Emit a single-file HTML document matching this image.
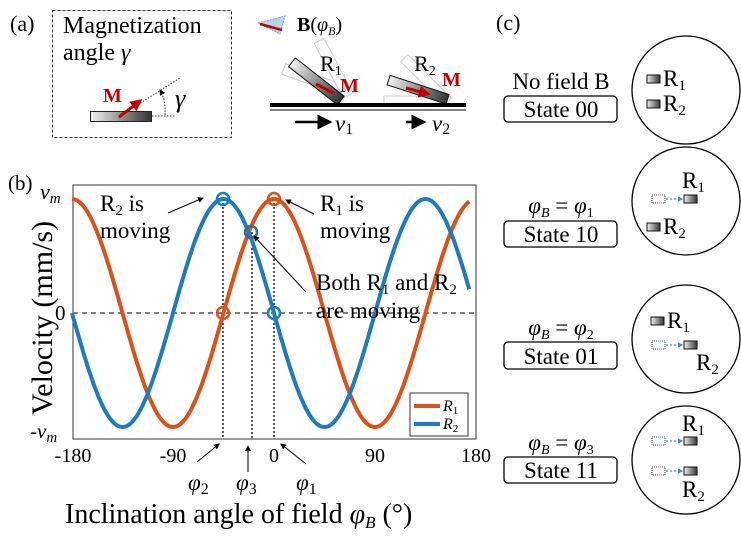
<!DOCTYPE html>
<html><head><meta charset="utf-8"><style>
body{margin:0;background:#fff}
svg, svg text{font-family:"Liberation Serif","Noto Serif CJK SC","DejaVu Serif",serif}
</style></head><body>
<svg width="741" height="531" viewBox="0 0 741 531" xmlns="http://www.w3.org/2000/svg">
<defs>
<linearGradient id="g" x1="0" x2="1"><stop offset="0" stop-color="#f2f2f2"/><stop offset="1" stop-color="#333"/></linearGradient>
<marker id="ar" markerWidth="6" markerHeight="6" refX="5" refY="3" orient="auto"><path d="M0,0L6,3L0,6z" fill="#000"/></marker>
<marker id="arr" markerWidth="4" markerHeight="4" refX="3" refY="2" orient="auto"><path d="M0,0L4,2L0,4z" fill="#c00000"/></marker>
<marker id="arb" markerWidth="4" markerHeight="4" refX="3" refY="2" orient="auto"><path d="M0,0L4,2L0,4z" fill="#4a86c0"/></marker>
</defs>
<text x="10" y="31" font-size="22">(a)</text>
<rect x="52.5" y="10.5" width="179" height="127" fill="none" stroke="#333" stroke-dasharray="3,2"/>
<text x="63" y="33" font-size="24">Magnetization</text>
<text x="63" y="60" font-size="24">angle <tspan font-style="italic">γ</tspan></text>
<rect x="90.5" y="111.5" width="61" height="10" fill="url(#g)" stroke="#222"/>
<line x1="152" y1="116" x2="175" y2="116" stroke="#333" stroke-dasharray="1.5,1.5"/>
<line x1="120" y1="116" x2="180" y2="78" stroke="#333" stroke-dasharray="1.5,1.5"/>
<path d="M165,115 Q166,100 160,90" fill="none" stroke="#333" stroke-dasharray="1.5,1.5" marker-end="url(#ar)"/>
<line x1="119" y1="117" x2="140" y2="101" stroke="#c00000" stroke-width="3" marker-end="url(#arr)"/>
<text x="103" y="102" font-size="20" font-weight="bold" fill="#c00000">M</text>
<text x="175" y="107" font-size="26" font-style="italic">γ</text>
<path d="M258,23 L285,16 L280,34 Z" fill="#b9d4e8" stroke="#7aa6cc" stroke-dasharray="2,1"/>
<line x1="260" y1="24" x2="282" y2="30" stroke="#c00000" stroke-width="2.5"/>
<text x="297" y="31" font-size="20"><tspan font-weight="bold">B</tspan>(<tspan font-style="italic">φ</tspan><tspan font-size="12" dy="4" font-style="italic">B</tspan><tspan dy="-4">)</tspan></text>
<g fill="#fbfbfb" stroke="#ccc" stroke-width="1">
<rect x="276" y="84" width="62" height="11" transform="rotate(20 338 101)"/>
<rect x="276" y="84" width="62" height="11" transform="rotate(62 338 101)"/>
<rect x="384" y="96" width="62" height="9"/>
<rect x="384" y="96" width="62" height="10" transform="rotate(45 446 104)"/>
</g>
<rect x="276" y="94" width="62" height="11" transform="rotate(38 338 104)" fill="url(#g)" stroke="#111"/>
<rect x="384" y="94" width="62" height="10" transform="rotate(18 446 104)" fill="url(#g)" stroke="#111"/>
<line x1="316" y1="84" x2="333" y2="93" stroke="#c00000" stroke-width="3"/>
<line x1="406" y1="88" x2="428" y2="94" stroke="#c00000" stroke-width="3" marker-end="url(#arr)"/>
<text x="320" y="71" font-size="22">R<tspan font-size="14" dy="4">1</tspan></text>
<text x="414" y="71" font-size="22">R<tspan font-size="14" dy="4">2</tspan></text>
<text x="340" y="92" font-size="20" font-weight="bold" fill="#c00000">M</text>
<text x="442" y="86" font-size="20" font-weight="bold" fill="#c00000">M</text>
<rect x="270" y="103" width="196" height="4" fill="#000"/>
<line x1="270" y1="110" x2="466" y2="110" stroke="#000"/>
<line x1="295" y1="122" x2="330" y2="122" stroke="#000" stroke-width="2.5" marker-end="url(#ar)"/>
<line x1="406" y1="122" x2="424" y2="122" stroke="#000" stroke-width="2.5" marker-end="url(#ar)"/>
<text x="335" y="131" font-size="23" font-style="italic">v<tspan font-size="16" font-style="normal" dy="3">1</tspan></text>
<text x="432" y="131" font-size="23" font-style="italic">v<tspan font-size="16" font-style="normal" dy="3">2</tspan></text>
<text x="8" y="190" font-size="21">(b)</text>
<text x="40" y="199" font-size="22" font-style="italic">v<tspan font-size="15" dy="4">m</tspan></text>
<text x="55" y="320" font-size="21">0</text>
<text x="30" y="438" font-size="21">-<tspan font-style="italic">v</tspan><tspan font-size="15" font-style="italic" dy="4">m</tspan></text>
<text transform="translate(52 318) rotate(-90)" font-size="30" text-anchor="middle">Velocity  (mm/s)</text>
<rect x="73" y="185" width="403" height="254" fill="none" stroke="#333" stroke-width="1"/>
<line x1="73" y1="313" x2="476" y2="313" stroke="#000" stroke-dasharray="5,4"/>
<g stroke="#000" stroke-dasharray="2,2" stroke-width="1.3">
<line x1="223" y1="199" x2="223" y2="439"/>
<line x1="274" y1="199" x2="274" y2="439"/>
<line x1="252" y1="232" x2="252" y2="439"/>
</g>
<path id="c1" fill="none" stroke="#d95319" stroke-width="4"/>
<path id="c2" fill="none" stroke="#1f7bbd" stroke-width="4"/>
<g fill="none" stroke-width="2.5">
<circle cx="274" cy="199" r="6" stroke="#d95319"/>
<circle cx="223" cy="313" r="6" stroke="#d95319"/>
<circle cx="223" cy="199" r="6" stroke="#1f7bbd"/>
<circle cx="274" cy="313" r="6" stroke="#1f7bbd"/>
<circle cx="251" cy="232" r="6" stroke="#3a6a90"/>
</g>
<g font-size="23">
<text x="100" y="211">R<tspan font-size="15" dy="4">2</tspan><tspan dy="-4"> is</tspan></text>
<text x="100" y="238">moving</text>
<text x="320" y="211">R<tspan font-size="15" dy="4">1</tspan><tspan dy="-4"> is</tspan></text>
<text x="320" y="238">moving</text>
<text x="316" y="290">Both R<tspan font-size="15" dy="4">1</tspan><tspan dy="-4"> and R</tspan><tspan font-size="15" dy="4">2</tspan></text>
<text x="316" y="318">are moving</text>
</g>
<g stroke="#000" stroke-width="1" marker-end="url(#ar)">
<line x1="168" y1="213" x2="203" y2="198"/>
<line x1="314" y1="214" x2="286" y2="200"/>
<line x1="306" y1="292" x2="254" y2="236"/>
<line x1="197" y1="462" x2="219" y2="444"/>
<line x1="248" y1="472" x2="248" y2="446"/>
<line x1="306" y1="464" x2="281" y2="444"/>
</g>
<g font-size="20" text-anchor="middle">
<text x="73" y="462">-180</text><text x="173" y="462">-90</text><text x="274" y="462">0</text><text x="375" y="462">90</text><text x="476" y="462">180</text>
</g>
<g font-size="23" font-style="italic">
<text x="188" y="490">φ<tspan font-size="16" font-style="normal" dy="4">2</tspan></text>
<text x="236" y="490">φ<tspan font-size="16" font-style="normal" dy="4">3</tspan></text>
<text x="296" y="490">φ<tspan font-size="16" font-style="normal" dy="4">1</tspan></text>
</g>
<text x="65" y="523" font-size="28">Inclination angle of field <tspan font-style="italic">φ</tspan><tspan font-size="17" font-style="italic" dy="5">B</tspan><tspan dy="-5"> (°)</tspan></text>
<rect x="410" y="393" width="58" height="43" fill="#fff" stroke="#333"/>
<line x1="414" y1="406" x2="440" y2="406" stroke="#d95319" stroke-width="4"/>
<line x1="414" y1="424" x2="440" y2="424" stroke="#1f7bbd" stroke-width="4"/>
<text x="443" y="411" font-size="16" font-style="italic">R<tspan font-size="11" dy="3" font-style="normal">1</tspan></text>
<text x="443" y="429" font-size="16" font-style="italic">R<tspan font-size="11" dy="3" font-style="normal">2</tspan></text>
<text x="496" y="30" font-size="22">(c)</text>
<g fill="none" stroke="#000" stroke-width="1.3">
<circle cx="686" cy="90" r="54"/><circle cx="686" cy="201" r="54"/>
<circle cx="686" cy="339" r="54"/><circle cx="686" cy="460" r="54"/>
<rect x="504" y="96" width="113" height="26" rx="4"/>
<rect x="504" y="221" width="113" height="26" rx="4"/>
<rect x="504" y="342" width="113" height="27" rx="4"/>
<rect x="504" y="457" width="113" height="26" rx="4"/>
</g>
<g font-size="23" text-anchor="middle">
<text x="561" y="89">No field B</text>
<text x="561" y="117">State 00</text>
<text x="561" y="242">State 10</text>
<text x="561" y="364">State 01</text>
<text x="561" y="478">State 11</text>
<text x="561" y="213" font-style="italic">φ<tspan font-size="14" dy="4">B</tspan><tspan dy="-4" font-style="normal"> = </tspan>φ<tspan font-size="14" font-style="normal" dy="4">1</tspan></text>
<text x="561" y="335" font-style="italic">φ<tspan font-size="14" dy="4">B</tspan><tspan dy="-4" font-style="normal"> = </tspan>φ<tspan font-size="14" font-style="normal" dy="4">2</tspan></text>
<text x="561" y="450" font-style="italic">φ<tspan font-size="14" dy="4">B</tspan><tspan dy="-4" font-style="normal"> = </tspan>φ<tspan font-size="14" font-style="normal" dy="4">3</tspan></text>
</g>
<g fill="url(#g)" stroke="#111">
<rect x="647" y="75" width="13" height="8"/><rect x="647" y="100" width="13" height="8"/>
<rect x="684" y="195" width="13" height="8"/><rect x="647" y="223" width="13" height="8"/>
<rect x="651" y="317" width="13" height="8"/><rect x="684" y="341" width="13" height="8"/>
<rect x="684" y="437" width="13" height="8"/><rect x="684" y="467" width="13" height="8"/>
</g>
<g fill="none" stroke="#555" stroke-dasharray="1,1">
<rect x="652" y="195" width="13" height="8"/><rect x="652" y="341" width="13" height="8"/>
<rect x="652" y="437" width="13" height="8"/><rect x="652" y="467" width="13" height="8"/>
</g>
<g stroke="#4a86c0" stroke-dasharray="2,2" stroke-width="1.3" marker-end="url(#arb)">
<line x1="666" y1="199" x2="682" y2="199"/><line x1="666" y1="345" x2="682" y2="345"/>
<line x1="666" y1="441" x2="682" y2="441"/><line x1="666" y1="471" x2="682" y2="471"/>
</g>
<g font-size="23">
<text x="663" y="86">R<tspan font-size="15" dy="4">1</tspan></text>
<text x="663" y="111">R<tspan font-size="15" dy="4">2</tspan></text>
<text x="682" y="188">R<tspan font-size="15" dy="4">1</tspan></text>
<text x="663" y="234">R<tspan font-size="15" dy="4">2</tspan></text>
<text x="667" y="328">R<tspan font-size="15" dy="4">1</tspan></text>
<text x="696" y="370">R<tspan font-size="15" dy="4">2</tspan></text>
<text x="682" y="431">R<tspan font-size="15" dy="4">1</tspan></text>
<text x="682" y="497">R<tspan font-size="15" dy="4">2</tspan></text>
</g>
</svg>
<script>
function X(p){return 274+p*(202/180);}
function Y(v){return 313-v*114;}
var a="",b="";
for(var p=-180;p<=174;p+=1){var r=p*Math.PI/180;
a+=(p==-180?"M":"L")+X(p).toFixed(1)+","+Y(Math.cos(2*r)).toFixed(1);
b+=(p==-180?"M":"L")+X(p).toFixed(1)+","+Y(-Math.sin(2*r)).toFixed(1);}
document.getElementById("c1").setAttribute("d",a);
document.getElementById("c2").setAttribute("d",b);
</script>
</body></html>
